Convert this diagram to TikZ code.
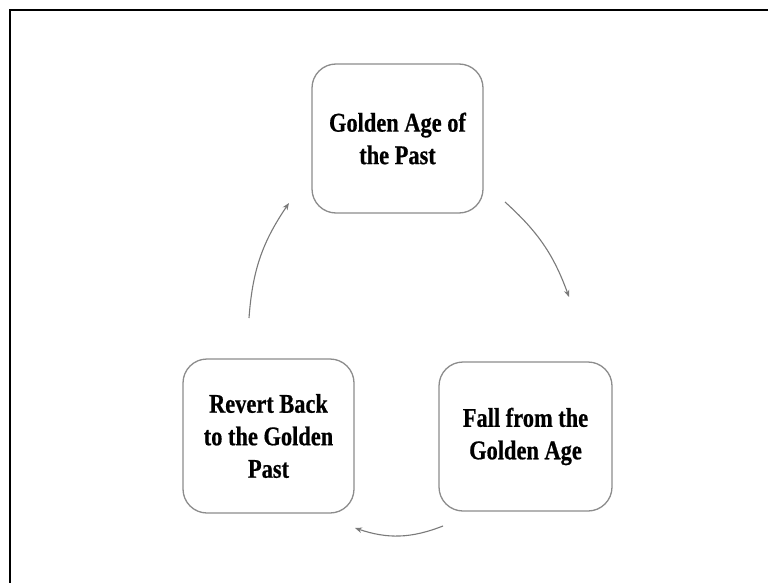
\documentclass[tikz,border=0pt]{standalone}
\usepackage{fontspec}
\setmainfont[FakeStretch=0.83,BoldFeatures={FakeBold=0.6}]{Liberation Serif}
\usetikzlibrary{arrows.meta}
\definecolor{boxgray}{HTML}{8C8C8C}
\definecolor{arrgray}{HTML}{7A7A7A}
\tikzset{
  stagebox/.style={draw=boxgray, line width=1.3pt, rounded corners=24pt, fill=white,
    align=center, inner sep=0pt, font=\fontsize{27}{32.5}\selectfont\bfseries},
  cyclearrow/.style={draw=arrgray, line width=1.1pt,
    -{Stealth[length=7pt,width=5.5pt]}},
  frameline/.style={draw=black, line width=2.2pt}
}
\begin{document}
\begin{tikzpicture}[x=1pt,y=1pt]
\useasboundingbox (0,0) rectangle (768,-583);
\fill[white] (0,0) rectangle (768,-583);
\coordinate (fr1) at (10,-583);
\coordinate (fr2) at (10,-10);
\coordinate (fr3) at (768,-10);
\draw[frameline] (fr1) -- (fr2) -- (fr3);

\node[stagebox, minimum width=171pt, minimum height=149pt] (top) at (397.5,-138.5)
  {Golden Age of\\the Past};
\node[stagebox, minimum width=173pt, minimum height=149pt] (fall) at (525.5,-436.5)
  {Fall from the\\Golden Age};
\node[stagebox, minimum width=171pt, minimum height=154pt] (revert) at (268.5,-436)
  {Revert Back\\to the Golden\\Past};

\coordinate (a1s) at (505,-202);
\coordinate (a1e) at (569,-297);
\coordinate (a2s) at (443,-526);
\coordinate (a2e) at (355,-528);
\coordinate (a3s) at (249,-318);
\coordinate (a3e) at (289,-203);
\draw[cyclearrow] (a1s) to[bend left=14] (a1e);
\draw[cyclearrow] (a2s) to[bend left=20] (a2e);
\draw[cyclearrow] (a3s) to[bend left=15] (a3e);
\end{tikzpicture}
\end{document}
